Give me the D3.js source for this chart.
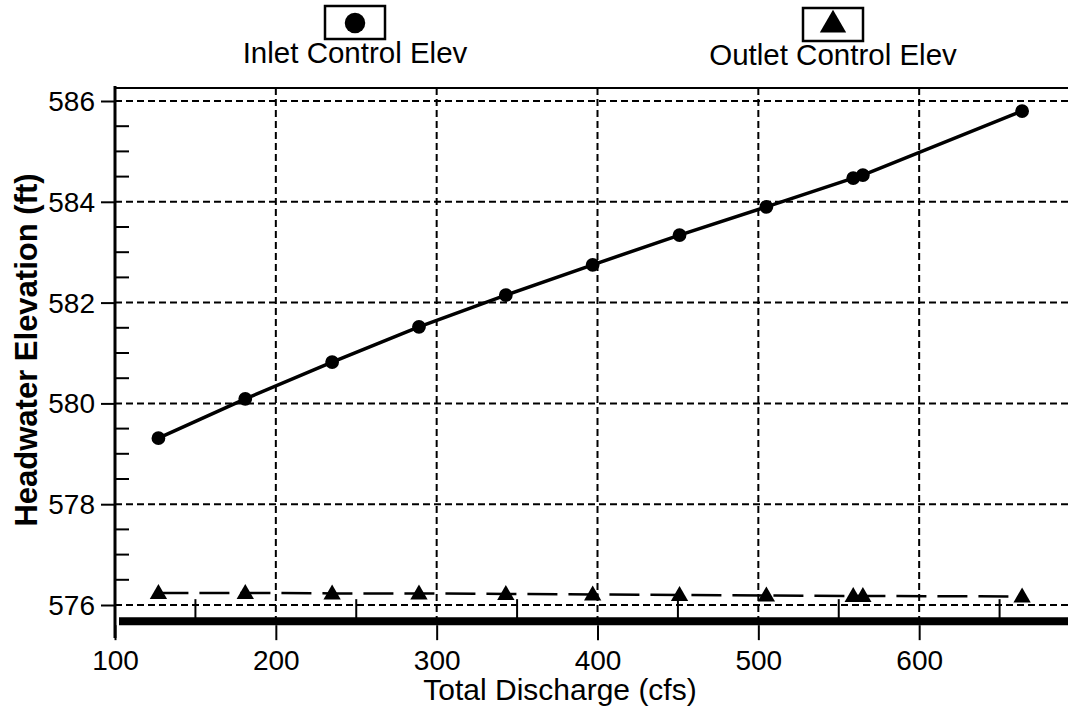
<!DOCTYPE html>
<html>
<head>
<meta charset="utf-8">
<script src="https://cdn.jsdelivr.net/npm/d3@7"></script>
<style>
  html, body { margin: 0; padding: 0; background: #fff; }
  svg { display: block; }
  text { font-family: "Liberation Sans", Arial, sans-serif; fill: #000; }
</style>
</head>
<body>
<svg id="chart" width="1068" height="717"></svg>
<script>
// ---- data ----
const discharge = [127, 181, 235, 289, 343, 397, 451, 505, 559, 565, 664];
const inletElev = [579.31, 580.09, 580.82, 581.52, 582.15, 582.75, 583.34, 583.90, 584.47, 584.53, 585.80];
const outletElev = [576.24, 576.24, 576.23, 576.23, 576.22, 576.21, 576.20, 576.19, 576.18, 576.18, 576.17];
const xTicks = [100, 200, 300, 400, 500, 600];
const xMinorTicks = [150, 250, 350, 450, 550, 650];
const yTicks = [576, 578, 580, 582, 584, 586];
const seriesNames = ["Inlet Control Elev", "Outlet Control Elev"];
const xTitle = "Total Discharge (cfs)";
const yTitle = "Headwater Elevation (ft)";

(function () {
const svg = d3.select("#chart");
const x = d3.scaleLinear().domain([100, 700]).range([115, 1080]);
const y = d3.scaleLinear().domain([576, 586]).range([605, 101]);
const plotTop = y(586.26), plotBottom = y(575.6);
const plotLeft = x(100), plotRight = 1080;

// gridlines
const grid = svg.append("g").attr("stroke", "#000").attr("stroke-width", 2).attr("stroke-dasharray", "7,4");
grid.selectAll("line.h").data(yTicks).join("line").attr("class", "h")
  .attr("x1", plotLeft).attr("x2", plotRight).attr("y1", d => y(d)).attr("y2", d => y(d));
grid.selectAll("line.v").data(xTicks.filter(d => d > 100)).join("line").attr("class", "v")
  .attr("x1", d => x(d)).attr("x2", d => x(d)).attr("y1", plotTop).attr("y2", plotBottom);

// frame top
svg.append("line").attr("x1", plotLeft).attr("x2", plotRight).attr("y1", plotTop).attr("y2", plotTop)
  .attr("stroke", "#000").attr("stroke-width", 2);

// y axis
const yAxis = d3.axisLeft(y).tickValues(yTicks).tickSize(14).tickSizeOuter(0).tickPadding(6);
const gy = svg.append("g").attr("transform", `translate(${plotLeft},0)`).call(yAxis);
gy.select(".domain").remove();
gy.selectAll(".tick line").attr("stroke-width", 2);
gy.selectAll(".tick text").attr("font-size", 28).attr("font-family", "Liberation Sans, Arial, sans-serif").attr("dy", "0.34em");
svg.append("line").attr("x1", plotLeft).attr("x2", plotLeft).attr("y1", plotTop - 2).attr("y2", 638)
  .attr("stroke", "#000").attr("stroke-width", 3);
const yMinor = d3.range(576.5, 586, 0.5).filter(d => !yTicks.includes(d));
svg.append("g").selectAll("line").data(yMinor).join("line")
  .attr("x1", plotLeft).attr("x2", plotLeft + 14).attr("y1", d => y(d)).attr("y2", d => y(d))
  .attr("stroke", "#000").attr("stroke-width", 2);

// x axis (thick bar)
svg.append("line").attr("x1", plotLeft + 4).attr("x2", plotRight).attr("y1", plotBottom - 4).attr("y2", plotBottom - 4)
  .attr("stroke", "#000").attr("stroke-width", 8);
const xAxis = d3.axisBottom(x).tickValues(xTicks).tickSize(15).tickSizeOuter(0).tickPadding(10);
const gx = svg.append("g").attr("transform", `translate(0,${plotBottom})`).call(xAxis);
gx.select(".domain").remove();
gx.selectAll(".tick line").attr("stroke-width", 2);
gx.selectAll(".tick text").attr("font-size", 28).attr("font-family", "Liberation Sans, Arial, sans-serif");
svg.append("g").selectAll("line").data(xMinorTicks).join("line")
  .attr("x1", d => x(d)).attr("x2", d => x(d)).attr("y1", plotBottom - 6).attr("y2", plotBottom - 26)
  .attr("stroke", "#000").attr("stroke-width", 2);

// series: inlet
const pts = discharge.map((d, i) => ({q: d, inlet: inletElev[i], outlet: outletElev[i]}));
svg.append("path").datum(pts)
  .attr("d", d3.line().x(d => x(d.q)).y(d => y(d.inlet)))
  .attr("fill", "none").attr("stroke", "#000").attr("stroke-width", 3.5);
const circSym = d3.symbol().type(d3.symbolCircle).size(150);
svg.append("g").selectAll("path").data(pts).join("path")
  .attr("transform", d => `translate(${x(d.q)},${y(d.inlet)})`).attr("d", circSym).attr("fill", "#000");

// series: outlet
svg.append("path").datum(pts)
  .attr("d", d3.line().x(d => x(d.q)).y(d => y(d.outlet)))
  .attr("fill", "none").attr("stroke", "#000").attr("stroke-width", 2.5).attr("stroke-dasharray", "30,11");
const triSym = d3.symbol().type(d3.symbolTriangle).size(130);
svg.append("g").selectAll("path").data(pts).join("path")
  .attr("transform", d => `translate(${x(d.q)},${y(d.outlet) + 1})`).attr("d", triSym).attr("fill", "#000");

// legend
const legendCenters = [355, 833];
legendCenters.forEach((cx, i) => {
  const g = svg.append("g");
  const by = i === 0 ? 6 : 8;
  g.append("rect").attr("x", cx - 30).attr("y", by).attr("width", 60).attr("height", 33)
    .attr("fill", "#fff").attr("stroke", "#000").attr("stroke-width", 2.5);
  g.append("path").attr("transform", `translate(${cx},${by + 17})`)
    .attr("d", i === 0 ? d3.symbol().type(d3.symbolCircle).size(330)() : d3.symbol().type(d3.symbolTriangle).size(300)())
    .attr("fill", "#000");
  g.append("text").attr("x", cx).attr("y", by + 57).attr("text-anchor", "middle")
    .attr("font-size", 29.5).text(seriesNames[i]);
});

// axis titles
svg.append("text").attr("x", 560).attr("y", 700).attr("text-anchor", "middle")
  .attr("font-size", 30).text(xTitle);
svg.append("text").attr("transform", "translate(37,350) rotate(-90)").attr("text-anchor", "middle")
  .attr("font-size", 31).attr("font-weight", "bold").text(yTitle);
})();
</script>
</body>
</html>
